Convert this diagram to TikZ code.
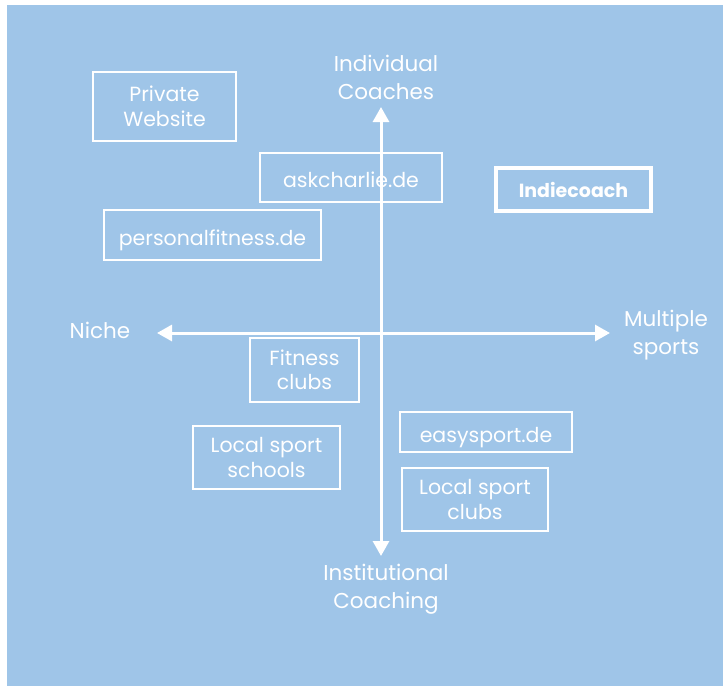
\documentclass[tikz,border=0pt]{standalone}
\usepackage{fontspec}
\setmainfont{Poppins}
\usetikzlibrary{arrows.meta}
\definecolor{SkyBlue}{RGB}{159,197,232}

\tikzset{
  axis/.style={line width=3pt,white,-{Triangle[width=16pt,length=15pt]}},
  axislabel/.style={text=white,font=\fontsize{21.5}{28}\selectfont,align=center},
  competitor/.style={draw=white,line width=1.5pt,text=white,align=center,
    font=\fontsize{20.5}{24.5}\selectfont,inner sep=0pt},
  oneline/.style={text height=24pt,text depth=4pt},
  ownbrand/.style={competitor,line width=4pt,font=\fontsize{19}{24}\selectfont\bfseries}
}

\begin{document}
\begin{tikzpicture}[x=1pt,y=-1pt]
  \useasboundingbox (0,0) rectangle (723,686);
  \fill[SkyBlue] (7,5) rectangle (723,686);
  % competitor boxes
  \node[competitor,minimum width=143pt,minimum height=69pt] (private) at (164.5,106.5) {Private\\Website};
  \node[competitor,oneline,minimum width=182pt,minimum height=49pt] (askcharlie) at (351,177.5) {askcharlie.de};
  \node[competitor,oneline,minimum width=217pt,minimum height=50pt] (personal) at (212.5,235) {personalfitness.de};
  \node[competitor,minimum width=109pt,minimum height=64pt] (fitness) at (304.5,370) {Fitness\\clubs};
  \node[competitor,minimum width=147pt,minimum height=63pt] (schools) at (266.5,457.5) {Local sport\\schools};
  \node[competitor,oneline,minimum width=172pt,minimum height=40pt] (easysport) at (486,432) {easysport.de};
  \node[competitor,minimum width=146pt,minimum height=63pt] (clubs) at (475,499.5) {Local sport\\clubs};
  \node[ownbrand,minimum width=155pt,minimum height=43pt] (indie) at (573.5,189.5) {Indiecoach};
  % axes
  \coordinate (top) at (381,107);
  \coordinate (bottom) at (381,556);
  \coordinate (left) at (157,333);
  \coordinate (right) at (610,333);
  \draw[axis] (381,333) -- (top);
  \draw[axis] (381,333) -- (bottom);
  \draw[axis] (381,333) -- (left);
  \draw[axis] (381,333) -- (right);
  \node[axislabel] (individual) at (386,77) {Individual\\Coaches};
  \node[axislabel] (institutional) at (386,589) {Institutional\\Coaching};
  \node[axislabel] (niche) at (100,330) {Niche};
  \node[axislabel] (multiple) at (666,335) {Multiple\\sports};
\end{tikzpicture}
\end{document}
